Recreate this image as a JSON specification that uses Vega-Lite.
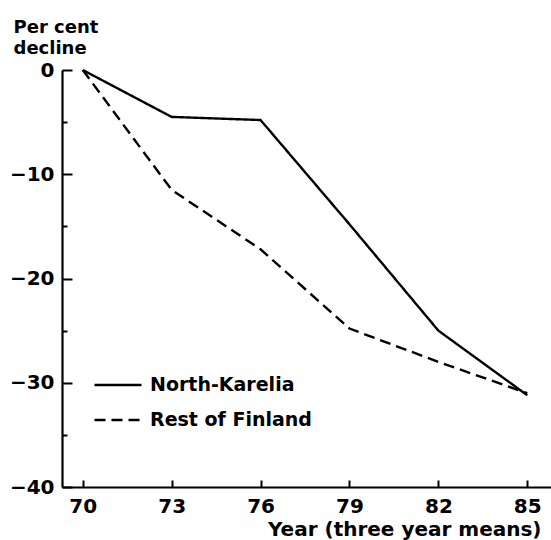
{
  "$schema": "https://vega.github.io/schema/vega-lite/v6.json",
  "width": 489,
  "height": 417,
  "autosize": {"type": "none"},
  "padding": {"left": 62, "top": 70, "right": 0, "bottom": 53},
  "background": "white",
  "config": {
    "view": {"stroke": null},
    "font": "DejaVu Sans",
    "axis": {
      "domainColor": "black",
      "domainWidth": 2.2,
      "tickColor": "black",
      "tickWidth": 2,
      "labelColor": "black",
      "titleColor": "black",
      "labelFont": "DejaVu Sans",
      "titleFont": "DejaVu Sans",
      "labelFontWeight": "bold",
      "titleFontWeight": "bold",
      "labelFontSize": 20,
      "titleFontSize": 20,
      "grid": false
    }
  },
  "data": {
    "values": [
      {"year": 70, "decline": 0, "region": "North-Karelia"},
      {"year": 73, "decline": -4.5, "region": "North-Karelia"},
      {"year": 76, "decline": -4.8, "region": "North-Karelia"},
      {"year": 79, "decline": -14.8, "region": "North-Karelia"},
      {"year": 82, "decline": -25, "region": "North-Karelia"},
      {"year": 85, "decline": -31.2, "region": "North-Karelia"},
      {"year": 70, "decline": 0, "region": "Rest of Finland"},
      {"year": 73, "decline": -11.5, "region": "Rest of Finland"},
      {"year": 76, "decline": -17.2, "region": "Rest of Finland"},
      {"year": 79, "decline": -24.8, "region": "Rest of Finland"},
      {"year": 82, "decline": -28, "region": "Rest of Finland"},
      {"year": 85, "decline": -31, "region": "Rest of Finland"}
    ]
  },
  "layer": [
    {
      "mark": {"type": "line", "color": "black", "strokeWidth": 2.4},
      "encoding": {
        "x": {
          "field": "year",
          "type": "quantitative",
          "scale": {"domain": [69.3, 85.8], "nice": false, "zero": false},
          "axis": {
            "values": [70, 73, 76, 79, 82, 85],
            "ticks": false,
            "labelPadding": 9,
            "labelFlush": false,
            "title": "Year (three year means)",
            "titleAnchor": "end",
            "titleAlign": "right",
            "titleBaseline": "alphabetic",
            "titleX": 479,
            "titleY": 48
          }
        },
        "y": {
          "field": "decline",
          "type": "quantitative",
          "scale": {"domain": [-40, 0], "nice": false},
          "axis": {
            "values": [0, -10, -20, -30, -40],
            "ticks": false,
            "labelPadding": 8,
            "labelFlush": false,
            "title": ["Per cent", "decline"],
            "titleFontSize": 18,
            "titleAngle": 0,
            "titleAlign": "left",
            "titleBaseline": "alphabetic",
            "titleLineHeight": 21,
            "titleX": -49,
            "titleY": -38
          }
        },
        "strokeDash": {
          "field": "region",
          "type": "nominal",
          "scale": {"domain": ["North-Karelia", "Rest of Finland"], "range": [[1, 0], [11, 6]]},
          "legend": {
            "title": null,
            "orient": "none",
            "legendX": 31,
            "legendY": 290,
            "symbolType": "stroke",
            "symbolSize": 2209,
            "symbolStrokeWidth": 2.4,
            "symbolStrokeColor": "black",
            "labelFont": "DejaVu Sans",
            "labelFontWeight": "bold",
            "labelFontSize": 19,
            "labelColor": "black",
            "labelOffset": 7,
            "labelLimit": 0,
            "rowPadding": -20
          }
        }
      }
    },
    {
      "mark": {"type": "point", "opacity": 0},
      "encoding": {
        "x": {
          "field": "year",
          "type": "quantitative",
          "axis": {
            "orient": "top",
            "offset": -417,
            "values": [70, 73, 76, 79, 82, 85],
            "domain": false,
            "labels": false,
            "tickSize": 7,
            "title": null
          }
        },
        "y": {
          "field": "decline",
          "type": "quantitative",
          "axis": {
            "orient": "right",
            "offset": -489,
            "values": [0, -5, -10, -15, -20, -25, -30, -35, -40],
            "domain": false,
            "labels": false,
            "tickSize": {"condition": {"test": "datum.value % 10 === 0", "value": 10}, "value": 5},
            "title": null
          }
        }
      }
    }
  ],
  "resolve": {"axis": {"x": "independent", "y": "independent"}}
}
